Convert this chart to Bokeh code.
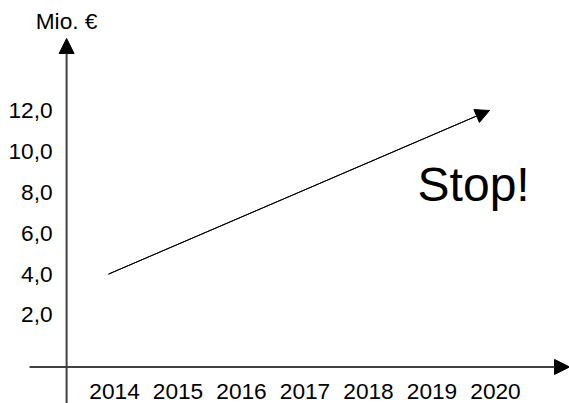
from bokeh.plotting import figure
from bokeh.models import Range1d, Arrow, NormalHead, ColumnDataSource
from bokeh.core.properties import value
from bokeh.embed import file_html
from bokeh.resources import INLINE

# ---- data ----
years = [2014, 2015, 2016, 2017, 2018, 2019, 2020]
year_labels = ["2014", "2015", "2016", "2017", "2018", "2019", "2020"]
y_ticks = [2.0, 4.0, 6.0, 8.0, 10.0, 12.0]
y_tick_labels = ["2,0", "4,0", "6,0", "8,0", "10,0", "12,0"]
trend_x = [2014, 2020]
trend_y = [4.0, 12.0]
y_unit = "Mio. €"
note = "Stop!"

# ---- layout / style ----
FONT = value("Liberation Sans")
LABEL_SIZE = "22.7px"
AXIS_COLOR = "#404040"
X_MIN, X_MAX = 2012.299, 2021.260
Y_MIN, Y_MAX = -2.328, 17.379
AX_X = 2013.34     # where the vertical axis crosses
AX_Y = -0.54       # where the horizontal axis crosses
X_AXIS_START = 2012.756
X_AXIS_END = X_MAX
Y_AXIS_END = 15.52

p = figure(width=569, height=403, output_backend="svg", toolbar_location=None,
           x_range=Range1d(X_MIN, X_MAX), y_range=Range1d(Y_MIN, Y_MAX),
           x_axis_type=None, y_axis_type=None, min_border=0)
p.outline_line_color = None
p.background_fill_color = "white"
p.border_fill_color = "white"

# axes with arrow heads
p.add_layout(Arrow(x_start=AX_X, y_start=Y_MIN, x_end=AX_X, y_end=Y_AXIS_END,
                   line_width=2, line_color=AXIS_COLOR,
                   end=NormalHead(size=15, fill_color="black", line_color="black")))
p.add_layout(Arrow(x_start=X_AXIS_START, y_start=AX_Y, x_end=X_AXIS_END, y_end=AX_Y,
                   line_width=2, line_color=AXIS_COLOR,
                   end=NormalHead(size=15, fill_color="black", line_color="black")))

# tick labels
ysrc = ColumnDataSource(dict(x=[AX_X] * len(y_ticks), y=y_ticks, t=y_tick_labels))
p.text(x="x", y="y", text="t", source=ysrc, text_align="right", text_baseline="middle",
       x_offset=-14, text_font=FONT, text_font_size=LABEL_SIZE, text_color="black")
xsrc = ColumnDataSource(dict(x=years, y=[AX_Y] * len(years), t=year_labels))
p.text(x="x", y="y", text="t", source=xsrc, text_align="center", text_baseline="middle",
       x_offset=6, y_offset=25, text_font=FONT, text_font_size=LABEL_SIZE, text_color="black")

# axis unit
p.text(x=[AX_X], y=[Y_AXIS_END], text=[y_unit], text_align="center",
       text_baseline="middle", y_offset=-17.5, text_font=FONT,
       text_font_size=LABEL_SIZE, text_color="black")

# trend line with arrow
p.line(trend_x, trend_y, line_color="black", line_width=1)
p.add_layout(Arrow(x_start=trend_x[0], y_start=trend_y[0], x_end=trend_x[-1], y_end=trend_y[-1],
                   line_width=1, line_color="black",
                   end=NormalHead(size=14, fill_color="black", line_color="black")))

# note
p.text(x=[2019.75], y=[8.38], text=[note], text_align="center", text_baseline="middle",
       text_font=FONT, text_font_size="48px", text_color="black")

open("out.html", "w").write(file_html(p, INLINE))
